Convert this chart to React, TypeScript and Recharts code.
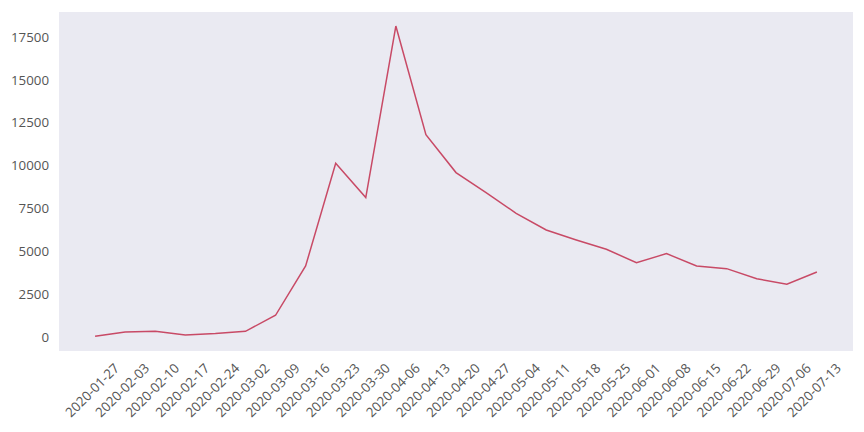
import React from "react";
import { LineChart, Line, XAxis, YAxis, CartesianGrid } from "recharts";

const weeks: string[] = [
  "2020-01-27", "2020-02-03", "2020-02-10", "2020-02-17", "2020-02-24",
  "2020-03-02", "2020-03-09", "2020-03-16", "2020-03-23", "2020-03-30",
  "2020-04-06", "2020-04-13", "2020-04-20", "2020-04-27", "2020-05-04",
  "2020-05-11", "2020-05-18", "2020-05-25", "2020-06-01", "2020-06-08",
  "2020-06-15", "2020-06-22", "2020-06-29", "2020-07-06", "2020-07-13",
];

const cases: number[] = [
  40, 290, 330, 115, 195, 330, 1265, 4140, 10130, 8130,
  18140, 11800, 9590, 8420, 7215, 6240, 5660, 5115, 4335, 4860,
  4140, 3985, 3400, 3075, 3790,
];

const yTicks: number[] = [0, 2500, 5000, 7500, 10000, 12500, 15000, 17500];

const data = weeks.map((w, i) => ({ idx: i, week: w, value: cases[i] }));
const xTicks = weeks.map((_, i) => i);

const FONT = "'Open Sans', 'Noto Sans', sans-serif";
const TEXT = "#555";

const XTick = (props: any) => {
  const { x, y, payload } = props;
  const label = weeks[payload.value] ?? "";
  return (
    <text
      x={0}
      y={0}
      textAnchor="end"
      fontFamily={FONT}
      fontSize={13.3}
      fill={TEXT}
      transform={`translate(${x + 25},${y + 18}) rotate(-45)`}
    >
      {label}
    </text>
  );
};

export default function App() {
  return (
    <div style={{ position: "absolute", left: 0, top: 0, width: 864, height: 432, background: "#fff" }}>
      <LineChart
        width={864}
        height={432}
        data={data}
        margin={{ top: 12, right: 11, left: 0, bottom: 51 }}
      >
        <CartesianGrid fill="#EAEAF2" stroke="transparent" horizontal={false} vertical={false} />
        <XAxis
          dataKey="idx"
          type="number"
          domain={[-1.2, 25.2]}
          ticks={xTicks}
          interval={0}
          axisLine={false}
          tickLine={false}
          tickSize={0}
          tickMargin={0}
          height={30}
          tick={<XTick />}
          allowDataOverflow
        />
        <YAxis
          type="number"
          domain={[-820, 18960]}
          ticks={yTicks}
          axisLine={false}
          tickLine={false}
          tickSize={0}
          tickMargin={10}
          width={59}
          allowDataOverflow
          tick={{ fontFamily: FONT, fontSize: 13.3, fill: TEXT }}
        />
        <Line
          type="linear"
          dataKey="value"
          stroke="#C84A66"
          strokeWidth={1.5}
          dot={false}
          isAnimationActive={false}
        />
      </LineChart>
    </div>
  );
}
